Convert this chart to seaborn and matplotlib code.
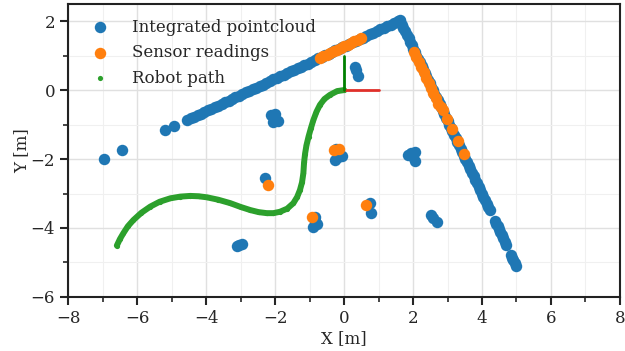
import matplotlib
matplotlib.use("Agg")
import matplotlib.pyplot as plt
import seaborn as sns
import pandas as pd
from matplotlib.ticker import MultipleLocator

# --- data ---
# wall 1 (lower left -> corner)
wall1_x = [-4.55, -4.45, -4.35, -4.25, -4.15, -4.05, -3.95, -3.85, -3.75, -3.65,
           -3.55, -3.45, -3.35, -3.25, -3.15, -3.05, -2.95, -2.85, -2.75, -2.65,
           -2.55, -2.45, -2.35, -2.25, -2.15, -2.05, -1.95, -1.85, -1.75, -1.65,
           -1.55, -1.45, -1.35, -1.25, -1.15, -1.05, -0.95, -0.85, -0.75, -0.65,
           -0.55, -0.45, -0.35, -0.25, -0.15, -0.05, 0.05, 0.15, 0.25, 0.35,
           0.45, 0.55, 0.65, 0.75, 0.85, 0.95, 1.05, 1.15, 1.25, 1.35,
           1.45, 1.55, 1.62]
wall1_y = [-0.87, -0.82, -0.78, -0.73, -0.68, -0.64, -0.59, -0.54, -0.49, -0.45,
           -0.40, -0.35, -0.31, -0.26, -0.21, -0.17, -0.12, -0.07, -0.02, 0.02,
           0.07, 0.12, 0.16, 0.21, 0.26, 0.31, 0.35, 0.40, 0.45, 0.49,
           0.54, 0.59, 0.63, 0.68, 0.73, 0.77, 0.82, 0.87, 0.92, 0.96,
           1.01, 1.06, 1.10, 1.15, 1.20, 1.24, 1.29, 1.34, 1.38, 1.43,
           1.48, 1.52, 1.57, 1.62, 1.66, 1.71, 1.76, 1.80, 1.85, 1.90,
           1.94, 1.99, 2.02]
# wall 2 (corner -> lower right)
wall2_x = [1.63, 1.68, 1.72, 1.77, 1.82, 1.87, 1.91, 1.96, 2.01, 2.06,
           2.10, 2.15, 2.20, 2.25, 2.29, 2.34, 2.39, 2.44, 2.48, 2.53,
           2.58, 2.62, 2.67, 2.72, 2.77, 2.81, 2.86, 2.91, 2.95, 3.00,
           3.05, 3.10, 3.14, 3.19, 3.24, 3.28, 3.33, 3.38, 3.43, 3.47,
           3.52, 3.57, 3.62, 3.66, 3.71, 3.76, 3.80, 3.85, 3.90, 3.95,
           3.99, 4.04, 4.09, 4.14, 4.18, 4.22,
           4.38, 4.42, 4.45, 4.49, 4.53, 4.57, 4.61, 4.66, 4.70,
           4.83, 4.87, 4.91, 4.95, 4.99]
wall2_y = [2.00, 1.90, 1.80, 1.70, 1.60, 1.50, 1.40, 1.30, 1.20, 1.10,
           1.00, 0.90, 0.80, 0.70, 0.60, 0.50, 0.40, 0.30, 0.20, 0.10,
           0.00, -0.10, -0.20, -0.30, -0.40, -0.50, -0.60, -0.70, -0.80, -0.90,
           -1.00, -1.10, -1.20, -1.30, -1.40, -1.50, -1.60, -1.70, -1.80, -1.90,
           -2.00, -2.10, -2.20, -2.30, -2.40, -2.50, -2.60, -2.70, -2.80, -2.90,
           -3.00, -3.10, -3.20, -3.30, -3.40, -3.48,
           -3.79, -3.87, -3.95, -4.03, -4.12, -4.21, -4.30, -4.40, -4.49,
           -4.78, -4.86, -4.94, -5.02, -5.10]
# scattered obstacles
blobs_x = [-6.95, -6.43, -5.18, -4.94,
           0.32, 0.39, 0.35,
           -2.12, -2.00, -2.05, -1.93,
           -0.22, -0.26, -0.07, -0.18,
           1.86, 1.95, 2.06, 2.06, 1.98,
           2.51, 2.69, 2.58,
           -2.29,
           -0.84, -0.89, -0.79, -0.85,
           0.75, 0.77,
           -3.11, -2.97, -3.04]
blobs_y = [-2.00, -1.73, -1.16, -1.04,
           0.68, 0.42, 0.58,
           -0.72, -0.70, -0.92, -0.90,
           -1.70, -2.03, -1.91, -1.95,
           -1.88, -1.82, -1.79, -2.05, -1.92,
           -3.62, -3.84, -3.70,
           -2.56,
           -3.67, -3.96, -3.88, -3.80,
           -3.28, -3.57,
           -4.51, -4.46, -4.50]

# current sensor readings
sensor_x = [-0.70, -0.60, -0.50, -0.40, -0.30, -0.20, -0.10, 0.00, 0.10, 0.20,
            0.30, 0.40, 0.50,
            2.02, 2.09, 2.16, 2.23, 2.31, 2.38, 2.45, 2.52, 2.59, 2.66, 2.73, 2.82, 2.88,
            2.98, 3.12, 3.30, 3.49,
            -0.28, -0.16, -2.21, -0.92, 0.64]
sensor_y = [0.94, 0.99, 1.03, 1.08, 1.13, 1.17, 1.22, 1.27, 1.31, 1.36,
            1.41, 1.46, 1.51,
            1.11, 0.96, 0.81, 0.66, 0.51, 0.36, 0.21, 0.06, -0.09, -0.24, -0.39, -0.50, -0.58,
            -0.85, -1.14, -1.49, -1.86,
            -1.74, -1.72, -2.75, -3.67, -3.34]

# robot trajectory
path_x = [0.00, -0.20, -0.41, -0.57, -0.70, -0.80, -0.89, -0.96, -1.03, -1.09,
          -1.13, -1.16, -1.18, -1.22, -1.28, -1.36, -1.47, -1.65, -1.86, -2.05,
          -2.24, -2.48, -2.72, -3.00, -3.30, -3.65, -3.98, -4.22, -4.46, -4.75,
          -5.04, -5.35, -5.62, -5.88, -6.11, -6.27, -6.40, -6.50, -6.59]
path_y = [0.00, -0.03, -0.14, -0.26, -0.43, -0.63, -0.87, -1.10, -1.35, -1.60,
          -1.84, -2.10, -2.41, -2.68, -2.90, -3.10, -3.28, -3.44, -3.53, -3.57,
          -3.57, -3.54, -3.48, -3.39, -3.28, -3.18, -3.11, -3.08, -3.07, -3.09,
          -3.14, -3.24, -3.38, -3.56, -3.77, -3.95, -4.15, -4.32, -4.51]

# robot pose (origin) and frame axis length
pose_x = 0.0
pose_y = 0.0
axis_len = 1.0

BLUE, ORANGE, GREEN = "#1f77b4", "#ff7f0e", "#2ca02c"

sns.set_theme(style="ticks", rc={
    "axes.grid": True,
    "grid.color": "#e0e0e0",
    "grid.linewidth": 1.0,
    "axes.edgecolor": "#222222",
    "axes.linewidth": 1.5,
})
plt.rcParams["font.family"] = ["DejaVu Serif"]

cloud = pd.DataFrame({"x": wall1_x + wall2_x + blobs_x,
                      "y": wall1_y + wall2_y + blobs_y})
sensor = pd.DataFrame({"x": sensor_x, "y": sensor_y})
path = pd.DataFrame({"x": path_x, "y": path_y})

fig = plt.figure(figsize=(6.25, 3.51), dpi=100)
ax = fig.add_axes([0.109, 0.154, 0.883, 0.835])

sns.scatterplot(data=cloud, x="x", y="y", s=68, color=BLUE, linewidth=0,
                label="Integrated pointcloud", ax=ax, zorder=3)
sns.scatterplot(data=sensor, x="x", y="y", s=68, color=ORANGE, linewidth=0,
                label="Sensor readings", ax=ax, zorder=4)
sns.lineplot(data=path, x="x", y="y", sort=False, color=GREEN, linewidth=4.3,
             solid_capstyle="round", ax=ax, zorder=3)
sns.scatterplot(data=path, x="x", y="y", s=14, color=GREEN, linewidth=0,
                label="Robot path", ax=ax, zorder=3)

# pose frame
ax.plot([pose_x, pose_x + axis_len], [pose_y, pose_y],
        color="#e0302a", linewidth=2, zorder=5)
ax.plot([pose_x, pose_x], [pose_y, pose_y + axis_len],
        color="green", linewidth=2, zorder=5)

ax.set_xlim(-8, 8)
ax.set_ylim(-6, 2.5)
ax.set_aspect("equal")
ax.xaxis.set_major_locator(MultipleLocator(2))
ax.yaxis.set_major_locator(MultipleLocator(2))
ax.xaxis.set_minor_locator(MultipleLocator(1))
ax.yaxis.set_minor_locator(MultipleLocator(1))
ax.grid(which="minor", color="#f0f0f0", linewidth=0.8)
ax.tick_params(which="major", length=6, width=1.5, labelsize=12)
ax.tick_params(which="minor", length=3.5, width=1.2)
for s in ax.spines.values():
    s.set_visible(True)

ax.set_xlabel("X [m]", fontsize=12, labelpad=2)
ax.set_ylabel("Y [m]", fontsize=12, labelpad=0)

ax.legend(loc="upper left", frameon=False, fontsize=12, markerscale=1.0,
          handletextpad=0.9, borderaxespad=0.5, labelspacing=0.5)

fig.savefig("out.png", dpi=100)
